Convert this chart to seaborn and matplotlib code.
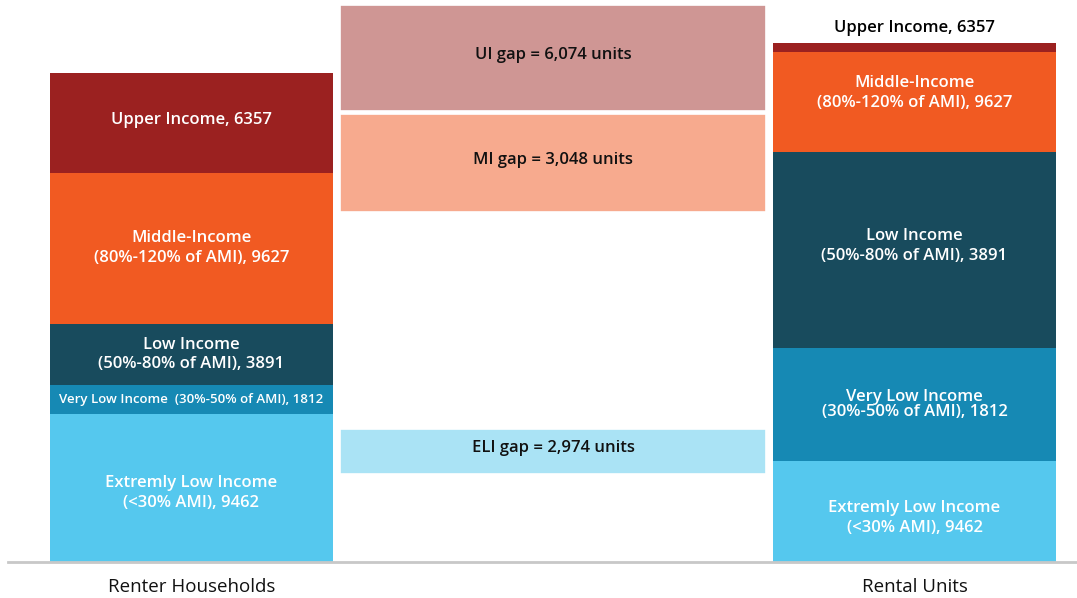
import matplotlib
matplotlib.use("Agg")
import matplotlib.pyplot as plt
import seaborn as sns
import pandas as pd
import numpy as np

# ---------------- data ----------------
groups = ["Renter Households", "Gap", "Rental Units"]
tick_labels = ["Renter Households", "", "Rental Units"]
levels = ["ELI", "VLI", "LI", "MI", "UI"]  # bottom to top
households = [9462, 1812, 3891, 9627, 6357]
units = [6430, 7210, 12450, 6400, 530]
seg_labels = [
    "Extremly Low Income\n(<30% AMI), 9462",
    "Very Low Income  (30%-50% of AMI), 1812",
    "Low Income\n(50%-80% of AMI), 3891",
    "Middle-Income\n(80%-120% of AMI), 9627",
    "Upper Income, 6357",
]
unit_labels = [
    "Extremly Low Income\n(<30% AMI), 9462",
    "Very Low Income\n(30%-50% of AMI), 1812",
    "Low Income\n(50%-80% of AMI), 3891",
    "Middle-Income\n(80%-120% of AMI), 9627",
    "Upper Income, 6357",
]
gap_names = ["ELI", "MI", "UI"]
gap_values = [2974, 3048, 6074]
gap_low = [5640, 22310, 28730]
gap_high = [8500, 28540, 35440]

colors = {"ELI": "#55C8EE", "VLI": "#1689B4", "LI": "#184B5D",
          "MI": "#F15A22", "UI": "#9B2120"}
gap_colors = {"ELI": "#AAE3F5", "MI": "#F7AA8E", "UI": "#CF9694"}

# label nudges (style, in data units)
left_nudge = {"ELI": -320, "VLI": 0, "LI": 0, "MI": 0, "UI": 190}
right_nudge = {"ELI": -390, "VLI": 0, "LI": 250, "MI": 550}

# ---------------- figure ----------------
sns.set_style("white")
plt.rcParams["font.family"] = ["Open Sans", "DejaVu Sans"]

W, H = 1077, 598
fig = plt.figure(figsize=(W / 100, H / 100), dpi=100)
ax = fig.add_axes([8 / W, 35.7 / H, (W - 8) / W, 562.3 / H])

df = pd.DataFrame({
    "group": ["Renter Households"] * 5 + ["Rental Units"] * 5,
    "level": levels * 2,
    "value": households + units,
})
df["cum"] = df.groupby("group")["value"].cumsum()

# overlapping cumulative bars: top level first
for lev in reversed(levels):
    sub = df[df["level"] == lev]
    sns.barplot(data=sub, x="group", y="cum", order=groups, color=colors[lev],
                width=0.783, linewidth=0, saturation=1, errorbar=None, ax=ax)

# gap boxes
for name, lo, hi in zip(gap_names, gap_low, gap_high):
    gdf = pd.DataFrame({"group": ["Gap"], "h": [hi - lo]})
    sns.barplot(data=gdf, x="group", y="h", order=groups, color=gap_colors[name],
                width=1.181, bottom=lo, linewidth=1.2, edgecolor="white",
                saturation=1, errorbar=None, ax=ax)

ax.set_xlim(-0.5076, 2.4495)
ax.set_ylim(0, 35775)

# segment labels
bold = dict(fontweight="semibold", ha="center", va="center")
cum_h = np.cumsum([0] + households)
for i, lab in enumerate(seg_labels):
    yc = (cum_h[i] + cum_h[i + 1]) / 2 + left_nudge[levels[i]]
    fs = 9.5 if levels[i] == "VLI" else 12
    ax.text(0, yc, lab, color="white", fontsize=fs, linespacing=1.3, **bold)

cum_u = np.cumsum([0] + units)
for i, lab in enumerate(unit_labels):
    if levels[i] == "UI":
        ax.text(2, cum_u[-1] + 1000, lab, color="black", fontsize=12, **bold)
        continue
    yc = (cum_u[i] + cum_u[i + 1]) / 2 + right_nudge[levels[i]]
    ls = 0.95 if levels[i] == "VLI" else 1.3
    ax.text(2, yc, lab, color="white", fontsize=12, linespacing=ls, **bold)

for name, val, lo, hi in zip(gap_names, gap_values, gap_low, gap_high):
    ax.text(1, (lo + hi) / 2 + 200, f"{name} gap = {val:,} units", color="#111111",
            fontsize=12, **bold)

# axes styling
ax.set_xlabel("")
ax.set_ylabel("")
ax.set_yticks([])
ax.set_xticks([0, 1, 2])
ax.set_xticklabels(tick_labels, fontsize=13.5, color="#111111")
ax.tick_params(axis="x", length=0, pad=11.5)
for s in ["top", "right", "left"]:
    ax.spines[s].set_visible(False)
ax.spines["bottom"].set_color("#C8C8C8")
ax.spines["bottom"].set_linewidth(2)

fig.savefig("out.png", dpi=100)
